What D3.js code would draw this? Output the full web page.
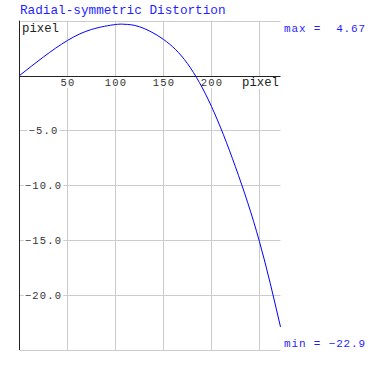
<!DOCTYPE html>
<html><head><meta charset="utf-8">
<script src="https://cdn.jsdelivr.net/npm/d3@7"></script>
<style>
html,body{margin:0;padding:0;background:#fff;}
svg{display:block;}
text{font-family:"Liberation Mono","DejaVu Sans Mono",monospace;white-space:pre;}
</style></head>
<body>
<svg id="chart" width="368" height="369"></svg>
<script>
// data
const radius = [0, 25, 50, 75, 100, 110, 125, 150, 175, 200, 225, 250, 272];
const distortion = [0, 1.7, 3.2, 4.2, 4.65, 4.67, 4.45, 3.3, 1.1, -2.8, -8.3, -15.1, -22.9];
const xTicks = [50, 100, 150, 200, 250];
const xTickLabels = ["50", "100", "150", "200"];
const yTicks = [-5, -10, -15, -20];
const yTickLabels = ["\u22125.0", "\u221210.0", "\u221215.0", "\u221220.0"];
const yGrid = [5, -5, -10, -15, -20, -25];
const title = "Radial-symmetric Distortion";
const unitLabel = "pixel";
const maxLabel = "max =  4.67";
const minLabel = "min = \u221222.9";

const svg = d3.select("#chart");
const x = d3.scaleLinear().domain([0, 272]).range([19.5, 280.5]);
const y = d3.scaleLinear().domain([5, -25]).range([20.7, 350]);

const grid = svg.append("g").attr("stroke", "#cccccc").attr("stroke-width", 1);
grid.selectAll("line.v").data(xTicks).join("line")
  .attr("x1", d => Math.round(x(d)) + 0.5).attr("x2", d => Math.round(x(d)) + 0.5)
  .attr("y1", y(5)).attr("y2", y(-25));
grid.selectAll("line.h").data(yGrid).join("line")
  .attr("x1", x(0)).attr("x2", x(272))
  .attr("y1", d => Math.round(y(d)) + 0.5).attr("y2", d => Math.round(y(d)) + 0.5);

// axes
svg.append("line").attr("x1", x(0)).attr("x2", x(0)).attr("y1", y(5)).attr("y2", y(-25))
  .attr("stroke", "#222").attr("stroke-width", 1);
svg.append("line").attr("x1", x(0)).attr("x2", x(272))
  .attr("y1", Math.round(y(0)) + 0.5).attr("y2", Math.round(y(0)) + 0.5)
  .attr("stroke", "#222").attr("stroke-width", 1);

// y tick labels with white background
const tickFont = 10.5;
const yl = svg.append("g");
yTicks.forEach((t, i) => {
  const g = yl.append("g");
  const txt = g.append("text").attr("x", 43.5).attr("y", Math.round(y(t)) + 4)
    .attr("text-anchor", "middle").attr("font-size", tickFont).attr("letter-spacing", 1.2)
    .attr("fill", "#333").text(yTickLabels[i]);
  const bb = txt.node().getBBox();
  g.insert("rect", "text").attr("x", bb.x - 1).attr("y", Math.round(y(t)) - 4).attr("width", bb.width + 2).attr("height", 9).attr("fill", "#fff");
});

// x tick labels
const xl = svg.append("g");
xTickLabels.forEach((lab, i) => {
  const t = xTicks[i];
  const g = xl.append("g");
  const txt = g.append("text").attr("x", x(t) + 0.5).attr("y", 86)
    .attr("text-anchor", "middle").attr("font-size", tickFont).attr("letter-spacing", 1.2)
    .attr("fill", "#333").text(lab);
  const bb = txt.node().getBBox();
  g.insert("rect", "text").attr("x", bb.x - 1).attr("y", 77).attr("width", bb.width + 2).attr("height", 11).attr("fill", "#fff");
});

// unit labels
const ul = svg.append("g");
const u1 = ul.append("g");
const u1t = u1.append("text").attr("x", 22).attr("y", 31.5).attr("font-size", 12.3)
  .attr("fill", "#222").text(unitLabel);
const u1b = u1t.node().getBBox();
u1.insert("rect", "text").attr("x", u1b.x - 1).attr("y", 22).attr("width", u1b.width + 2).attr("height", 13).attr("fill", "#fff");
const u2 = ul.append("g");
const u2t = u2.append("text").attr("x", 279).attr("y", 86).attr("font-size", 12.3)
  .attr("text-anchor", "end").attr("fill", "#222").text(unitLabel);
const u2b = u2t.node().getBBox();
u2.insert("rect", "text").attr("x", u2b.x - 1).attr("y", 77).attr("width", u2b.width + 2).attr("height", 12).attr("fill", "#fff");

// curve
const line = d3.line().x((d, i) => x(radius[i])).y(d => y(d)).curve(d3.curveNatural);
svg.append("path").datum(distortion).attr("d", line)
  .attr("fill", "none").attr("stroke", "#0000ff").attr("stroke-width", 1);

// title & extrema labels
svg.append("text").attr("x", 20).attr("y", 14).attr("font-size", 12.7)
  .attr("fill", "#1f1fff").text(title);
svg.append("text").attr("x", 284).attr("y", 32).attr("font-size", 11).attr("letter-spacing", 0.85)
  .attr("fill", "#1f1fff").text(maxLabel);
svg.append("text").attr("x", 284).attr("y", 347).attr("font-size", 11).attr("letter-spacing", 0.85)
  .attr("fill", "#1f1fff").text(minLabel);
</script>
</body></html>
